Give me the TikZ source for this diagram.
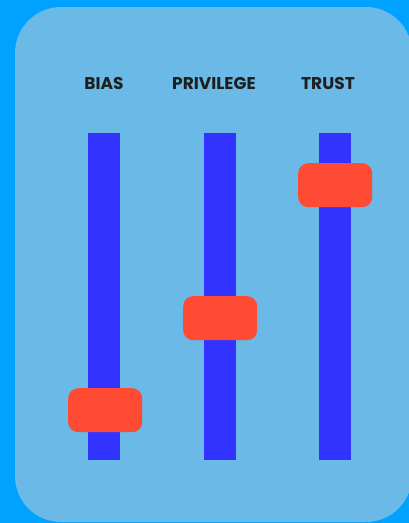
\documentclass[tikz,border=0pt]{standalone}
\usepackage{fontspec}
\setmainfont{Poppins}
\definecolor{bgblue}{HTML}{00A2FF}
\definecolor{panel}{HTML}{6BB9E6}
\definecolor{barblue}{HTML}{3333FF}
\definecolor{handle}{HTML}{FF4B33}
\definecolor{txt}{HTML}{1E1E1E}
\begin{document}
\begin{tikzpicture}[x=1pt,y=-1pt,
  bar/.style={fill=barblue,draw=none},
  knob/.style={fill=handle,draw=none,rounded corners=10pt},
  lbl/.style={font=\fontsize{17}{17}\selectfont\bfseries,text=txt,anchor=base}]
\useasboundingbox (0,0) rectangle (409,523);
\fill[bgblue] (0,0) rectangle (409,523);
\fill[panel,rounded corners=46pt] (15,7) rectangle (412,522);
% bars
\node[bar,minimum width=32pt,minimum height=327pt,inner sep=0,anchor=north west] (b1) at (88,133) {};
\node[bar,minimum width=32pt,minimum height=327pt,inner sep=0,anchor=north west] (b2) at (204,133) {};
\node[bar,minimum width=32pt,minimum height=327pt,inner sep=0,anchor=north west] (b3) at (319,133) {};
% handles
\node[knob,minimum width=74pt,minimum height=44pt,inner sep=0,anchor=north west] (h1) at (68,388) {};
\node[knob,minimum width=74pt,minimum height=44pt,inner sep=0,anchor=north west] (h2) at (183,296) {};
\node[knob,minimum width=74pt,minimum height=44pt,inner sep=0,anchor=north west] (h3) at (298,163) {};
% labels
\node[lbl] (l1) at (104,89) {BIAS};
\node[lbl] (l2) at (214,89) {PRIVILEGE};
\node[lbl] (l3) at (328,89) {TRUST};
\end{tikzpicture}
\end{document}
